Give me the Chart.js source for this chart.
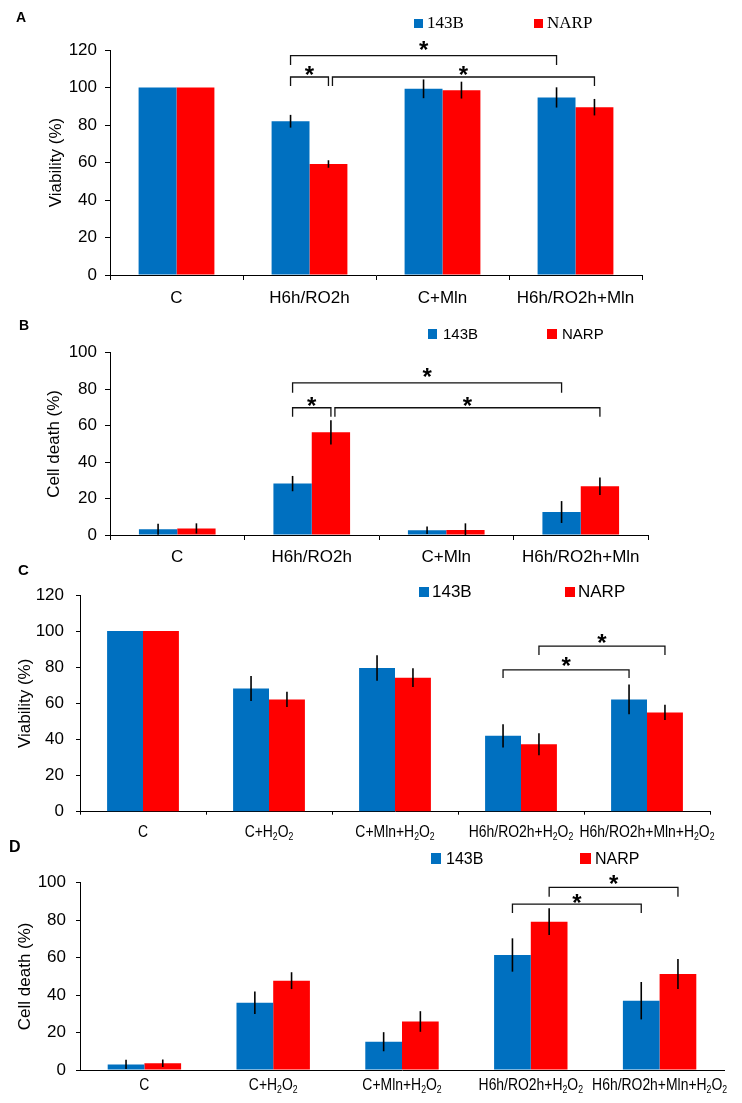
<!DOCTYPE html>
<html>
<head>
<meta charset="utf-8">
<style>
  html, body { margin: 0; padding: 0; background: #fff; }
  #page { position: relative; width: 742px; height: 1103px; overflow: hidden; background: #fff; }
  canvas { position: absolute; left: 0; }
</style>
</head>
<body>
<div id="page">
  <canvas id="chartA"></canvas>
  <canvas id="chartB"></canvas>
  <canvas id="chartC"></canvas>
  <canvas id="chartD"></canvas>
</div>
<script src="https://cdn.jsdelivr.net/npm/chart.js"></script>
<script>
const seriesNames = ['143B', 'NARP'];
const seriesColors = ['#0070C0', '#FF0000'];
const labelsAB = ['C', 'H6h/RO2h', 'C+Mln', 'H6h/RO2h+Mln'];
const labelsCD = ['C', 'C+H₂O₂', 'C+Mln+H₂O₂', 'H6h/RO2h+H₂O₂', 'H6h/RO2h+Mln+H₂O₂'];

// A - viability (%)
const viabA143B = [100, 82, 99.3, 94.7];
const viabA143BErr = [0, 3.4, 5, 5.4];
const viabANARP = [100, 59.2, 98.6, 89.5];
const viabANARPErr = [0, 2, 4.5, 4.4];

// B - cell death (%)
const deathB143B = [3.2, 28.2, 2.6, 12.6];
const deathB143BErr = [3, 4.2, 2, 6];
const deathBNARP = [3.6, 56.3, 2.8, 26.8];
const deathBNARPErr = [2.8, 6.6, 3.6, 4.8];

// C - viability (%) with H2O2
const viabC143B = [100, 68.2, 79.6, 42, 62.2];
const viabC143BErr = [0, 6.9, 7.1, 6.4, 8.3];
const viabCNARP = [100, 62.2, 74.2, 37.3, 55];
const viabCNARPErr = [0, 4.2, 5.2, 6.1, 4.2];

// D - cell death (%) with H2O2
const deathD143B = [3, 35.9, 15.1, 61.4, 37];
const deathD143BErr = [2.5, 6, 5.1, 8.9, 10];
const deathDNARP = [3.6, 47.7, 25.9, 79.2, 51.3];
const deathDNARPErr = [2, 4.5, 5.5, 7.1, 8];

// significance brackets: [category, series] ends, bar level, drop level, star level
const bracketsAB = [
  { from: [1, 0], to: [3, 0], y: 117, drop: 112, star: 123 },
  { from: [1, 0], to: [1, 1], y: 105.6, drop: 100.8, star: 110 },
  { from: [1, 1], to: [3, 1], y: 105.6, drop: 100.8, star: 110, dx: 4 }
];
const bracketsB = [
  { from: [1, 0], to: [3, 0], y: 83.5, drop: 78, star: 89.6 },
  { from: [1, 0], to: [1, 1], y: 69.8, drop: 64.9, star: 74 },
  { from: [1, 1], to: [3, 1], y: 69.8, drop: 64.9, star: 74, dx: 4 }
];
const bracketsC = [
  { from: [3, 1], to: [4, 1], y: 91.7, drop: 86.8, star: 96.9 },
  { from: [3, 0], to: [4, 0], y: 78.5, drop: 74, star: 84 }
];
const bracketsD = [
  { from: [3, 1], to: [4, 1], y: 97.5, drop: 92.5, star: 102.5 },
  { from: [3, 0], to: [4, 0], y: 88.6, drop: 83.8, star: 92.5 }
];

const SANS = '"Liberation Sans", Arial, sans-serif';
const SUBS = { '₂': '2' };

// category label with real subscripts, slightly condensed like the original
function drawLabel(ctx, text, x, y, size, squeeze) {
  const parts = [];
  for (const ch of text) {
    const sub = ch in SUBS;
    const c = sub ? SUBS[ch] : ch;
    const last = parts[parts.length - 1];
    if (last && last.sub === sub) last.t += c; else parts.push({ t: c, sub: sub });
  }
  const subSize = Math.round(size * 0.65);
  let w = 0;
  parts.forEach(p => {
    ctx.font = (p.sub ? subSize : size) + 'px ' + SANS;
    p.w = ctx.measureText(p.t).width;
    w += p.w;
  });
  ctx.save();
  ctx.translate(x, y);
  ctx.scale(squeeze, 1);
  let cx = -w / 2;
  parts.forEach(p => {
    ctx.font = (p.sub ? subSize : size) + 'px ' + SANS;
    ctx.fillText(p.t, cx, p.sub ? 3 : 0);
    cx += p.w;
  });
  ctx.restore();
}

const extras = {
  id: 'extras',
  afterDatasetsDraw(chart, args, o) {
    const ctx = chart.ctx;
    const ys = chart.scales.y;
    ctx.save();
    // error bars
    ctx.strokeStyle = '#000';
    ctx.lineWidth = 1.6;
    chart.data.datasets.forEach((ds, di) => {
      chart.getDatasetMeta(di).data.forEach((bar, i) => {
        const e = ds.errors[i];
        if (!e) return;
        ctx.beginPath();
        ctx.moveTo(bar.x, ys.getPixelForValue(ds.data[i] + e));
        ctx.lineTo(bar.x, ys.getPixelForValue(Math.max(0, ds.data[i] - e)));
        ctx.stroke();
      });
    });
    // brackets
    ctx.lineWidth = 1.3;
    ctx.strokeStyle = '#111';
    ctx.fillStyle = '#000';
    ctx.font = 'bold 24px ' + SANS;
    ctx.textAlign = 'center';
    ctx.textBaseline = 'alphabetic';
    o.brackets.forEach(b => {
      const x1 = chart.getDatasetMeta(b.from[1]).data[b.from[0]].x + (b.dx || 0);
      const x2 = chart.getDatasetMeta(b.to[1]).data[b.to[0]].x;
      const yb = ys.getPixelForValue(b.y);
      const yd = ys.getPixelForValue(b.drop);
      ctx.beginPath();
      ctx.moveTo(x1, yd);
      ctx.lineTo(x1, yb);
      ctx.lineTo(x2, yb);
      ctx.lineTo(x2, yd);
      ctx.stroke();
      ctx.fillText('*', (x1 + x2) / 2, ys.getPixelForValue(b.star) + 13.8);
    });
    ctx.restore();
  },
  afterDraw(chart, args, o) {
    const ctx = chart.ctx;
    ctx.save();
    ctx.fillStyle = '#000';
    ctx.textAlign = 'left';
    ctx.textBaseline = 'alphabetic';
    // own category labels (for the H2O2 panels)
    if (o.xlabels) {
      const xs = chart.scales.x;
      chart.data.labels.forEach((lab, i) => {
        drawLabel(ctx, lab, xs.getPixelForTick(i), xs.top + o.xlabels.dy, o.xlabels.size, o.xlabels.squeeze);
      });
    }
    // panel letter
    ctx.font = 'bold ' + o.letter.size + 'px ' + SANS;
    ctx.fillText(o.letter.text, o.letter.x, o.letter.y);
    // legend
    const lg = o.legend;
    ctx.font = lg.font;
    seriesNames.forEach((name, i) => {
      const it = lg.items[i];
      ctx.fillStyle = seriesColors[i];
      ctx.fillRect(it.box, lg.y - it.h, it.w, it.h);
      ctx.fillStyle = '#000';
      ctx.fillText(name, it.text, lg.y);
    });
    ctx.restore();
  }
};

const panels = [
  {
    id: 'chartA', top: 0, height: 310, padTop: 50, left: 110, right: 642, xAxisH: 35,
    ymax: 120, labels: labelsAB,
    values: [viabA143B, viabANARP], errors: [viabA143BErr, viabANARPErr],
    title: 'Viability (%)', titleX: 56.6, xFont: 17, xPad: 8, xTick: 5, yPad: 8, yTick: 5,
    brackets: bracketsAB, xlabels: null,
    letter: { text: 'A', x: 16, y: 22, size: 14 },
    legend: { font: '17px "Liberation Serif", "Times New Roman", serif', y: 28,
      items: [{ box: 414, w: 9, h: 9, text: 427 }, { box: 534, w: 9, h: 9, text: 547 }] }
  },
  {
    id: 'chartB', top: 305, height: 265, padTop: 47.7, left: 110, right: 648, xAxisH: 35,
    ymax: 100, labels: labelsAB,
    values: [deathB143B, deathBNARP], errors: [deathB143BErr, deathBNARPErr],
    title: 'Cell death (%)', titleX: 54, xFont: 17, xPad: 7, xTick: 5, yPad: 8, yTick: 5,
    brackets: bracketsB, xlabels: null,
    letter: { text: 'B', x: 19, y: 25, size: 14 },
    legend: { font: '15px ' + SANS, y: 34,
      items: [{ box: 428, w: 9, h: 10, text: 443 }, { box: 547, w: 10, h: 10, text: 562 }] }
  },
  {
    id: 'chartC', top: 560, height: 290, padTop: 35, left: 80, right: 710, xAxisH: 38.3,
    ymax: 120, labels: labelsCD,
    values: [viabC143B, viabCNARP], errors: [viabC143BErr, viabCNARPErr],
    title: 'Viability (%)', titleX: 25, xFont: 16, xPad: 7, xTick: 3, yPad: 12, yTick: 4,
    brackets: bracketsC, xlabels: { dy: 25, size: 16, squeeze: 0.87 },
    letter: { text: 'C', x: 18, y: 15, size: 15 },
    legend: { font: '17px ' + SANS, y: 37,
      items: [{ box: 419, w: 10, h: 10, text: 432 }, { box: 565, w: 10, h: 10, text: 578 }] }
  },
  {
    id: 'chartD', top: 835, height: 268, padTop: 47.7, left: 80, right: 724, xAxisH: 33,
    ymax: 100, labels: labelsCD,
    values: [deathD143B, deathDNARP], errors: [deathD143BErr, deathDNARPErr],
    title: 'Cell death (%)', titleX: 25, xFont: 16, xPad: 5, xTick: 0, yPad: 10, yTick: 4,
    brackets: bracketsD, xlabels: { dy: 20, size: 16, squeeze: 0.87 },
    letter: { text: 'D', x: 9, y: 17, size: 16 },
    legend: { font: '16px ' + SANS, y: 29,
      items: [{ box: 431, w: 10, h: 11, text: 446 }, { box: 580, w: 11, h: 11, text: 595 }] }
  }
];

panels.forEach(p => {
  const canvas = document.getElementById(p.id);
  canvas.width = 742;
  canvas.height = p.height;
  canvas.style.top = p.top + 'px';
  canvas.style.width = '742px';
  canvas.style.height = p.height + 'px';

  new Chart(canvas, {
    type: 'bar',
    data: {
      labels: p.labels,
      datasets: seriesNames.map((name, i) => ({
        label: name,
        data: p.values[i],
        errors: p.errors[i],
        backgroundColor: seriesColors[i],
        borderWidth: 0,
        categoryPercentage: 0.57,
        barPercentage: 1.0
      }))
    },
    options: {
      responsive: false,
      animation: false,
      devicePixelRatio: 1,
      layout: { padding: { top: p.padTop, right: 742 - p.right, left: 0, bottom: 0 } },
      plugins: {
        legend: { display: false },
        tooltip: { enabled: false },
        extras: { brackets: p.brackets, letter: p.letter, legend: p.legend, xlabels: p.xlabels }
      },
      scales: {
        x: {
          afterFit: s => { s.height = p.xAxisH; },
          border: { display: true, color: '#000', width: 1 },
          grid: { display: true, drawOnChartArea: false, drawTicks: p.xTick > 0, tickLength: p.xTick, color: '#000', offset: true },
          ticks: { display: !p.xlabels, color: '#000', font: { family: SANS, size: p.xFont }, padding: p.xPad, maxRotation: 0, autoSkip: false }
        },
        y: {
          min: 0,
          max: p.ymax,
          afterFit: s => { s.width = p.left; },
          border: { display: true, color: '#000', width: 1 },
          grid: { display: true, drawOnChartArea: false, drawTicks: true, tickLength: p.yTick, color: '#000' },
          ticks: { stepSize: 20, color: '#000', font: { family: SANS, size: 17 }, padding: p.yPad },
          title: {
            display: true,
            text: p.title,
            color: '#000',
            font: { family: SANS, size: 17 },
            padding: { top: p.titleX - 10.2, bottom: 0 }
          }
        }
      }
    },
    plugins: [extras]
  });
});
</script>
</body>
</html>
